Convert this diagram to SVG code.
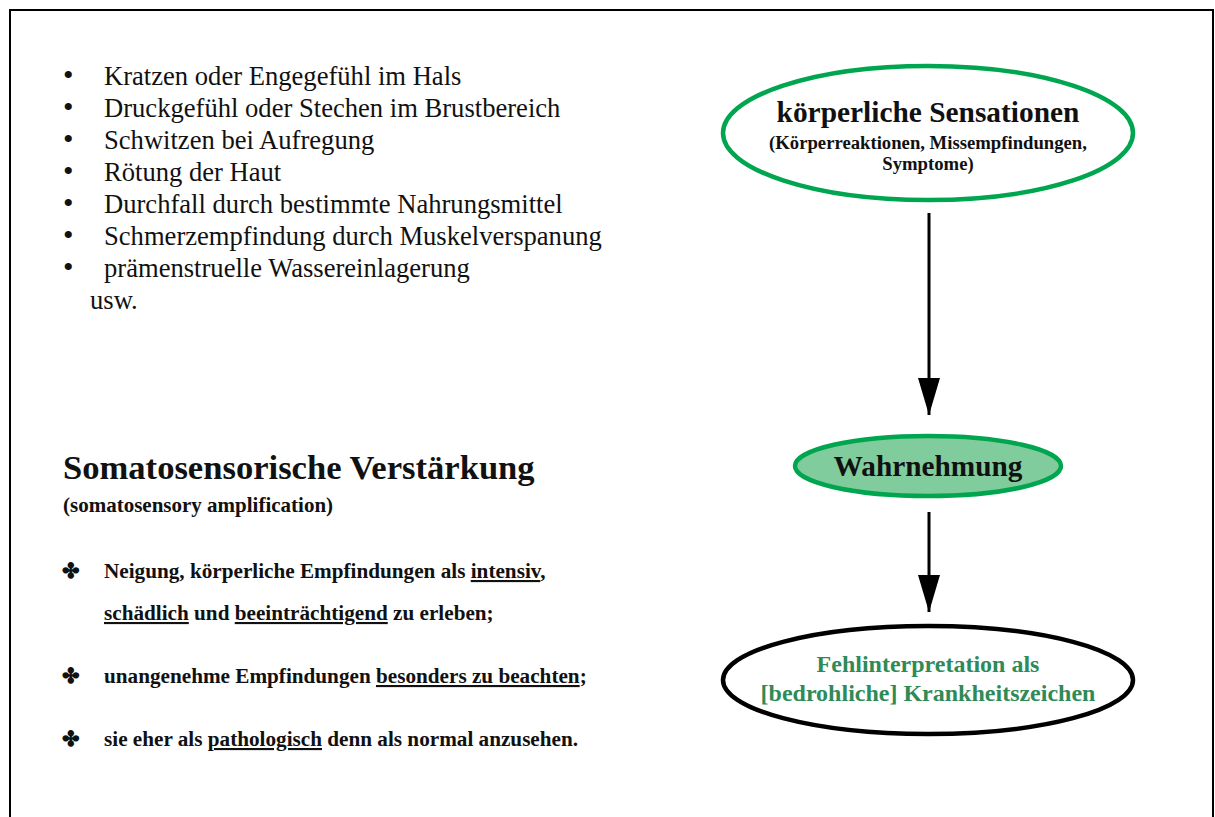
<svg xmlns="http://www.w3.org/2000/svg" width="1215" height="817" viewBox="0 0 1215 817">
<style>
.li{font-family:"Liberation Serif","Times New Roman",serif;font-size:26.6px;fill:#111}
.bu{font-size:30px}
.b{font-family:"Liberation Serif","Times New Roman",serif;font-weight:bold;fill:#111}
.sm{font-size:21.2px}
.u{text-decoration:underline}
.conn{stroke:#000;stroke-width:3;fill:none}
</style>
<defs>
<marker id="ah" markerUnits="userSpaceOnUse" markerWidth="38" markerHeight="24" refX="37" refY="12" orient="auto" viewBox="0 0 38 24">
<path d="M0,1 L37,12 L0,23 Z" fill="#000"/>
</marker>
</defs>
<rect width="1215" height="817" fill="#fff"/>
<path d="M10,817 L10,10 L1213,10 L1213,817" fill="none" stroke="#000" stroke-width="2"/>
<g id="list">
<g class="li">
<text class="bu" x="63" y="85">•</text><text x="104" y="85">Kratzen oder Engegefühl im Hals</text>
<text class="bu" x="63" y="117">•</text><text x="104" y="117">Druckgefühl oder Stechen im Brustbereich</text>
<text class="bu" x="63" y="149">•</text><text x="104" y="149">Schwitzen bei Aufregung</text>
<text class="bu" x="63" y="181">•</text><text x="104" y="181">Rötung der Haut</text>
<text class="bu" x="63" y="213">•</text><text x="104" y="213">Durchfall durch bestimmte Nahrungsmittel</text>
<text class="bu" x="63" y="245">•</text><text x="104" y="245">Schmerzempfindung durch Muskelverspanung</text>
<text class="bu" x="63" y="277">•</text><text x="104" y="277">prämenstruelle Wassereinlagerung</text>
<text x="90" y="309">usw.</text>
</g>
</g>
<g id="somato">
<text class="b" x="63" y="479" font-size="34.6">Somatosensorische Verstärkung</text>
<text class="b" x="63" y="512" font-size="21">(somatosensory amplification)</text>
<g class="b sm">
<text x="62" y="578">✤</text>
<text x="104" y="578">Neigung, körperliche Empfindungen als <tspan class="u">intensiv</tspan>,</text>
<text x="104" y="620"><tspan class="u">schädlich</tspan> und <tspan class="u">beeinträchtigend</tspan> zu erleben;</text>
<text x="62" y="683">✤</text>
<text x="104" y="683">unangenehme Empfindungen <tspan class="u">besonders zu beachten</tspan>;</text>
<text x="62" y="746">✤</text>
<text x="104" y="746">sie eher als <tspan class="u">pathologisch</tspan> denn als normal anzusehen.</text>
</g>
</g>
<g id="connectors">
<line class="conn" x1="929" y1="213" x2="929" y2="415" marker-end="url(#ah)"/>
<line class="conn" x1="929" y1="512" x2="929" y2="612" marker-end="url(#ah)"/>
</g>
<g id="sensationen">
<ellipse cx="928" cy="133" rx="205" ry="67" fill="#fff" stroke="#00a54f" stroke-width="4.5"/>
<text class="b" x="928" y="122" font-size="29.4" text-anchor="middle">körperliche Sensationen</text>
<text class="b" x="928" y="149" font-size="18.7" text-anchor="middle">(Körperreaktionen, Missempfindungen,</text>
<text class="b" x="928" y="170" font-size="18.7" text-anchor="middle">Symptome)</text>
</g>
<g id="wahrnehmung">
<ellipse cx="928" cy="466" rx="133" ry="30" fill="#80cc9c" stroke="#00a54f" stroke-width="4.5"/>
<text class="b" x="928" y="476" font-size="29.3" text-anchor="middle">Wahrnehmung</text>
</g>
<g id="fehl">
<ellipse cx="928" cy="680" rx="205" ry="54" fill="#fff" stroke="#000" stroke-width="4.5"/>
<text class="b" x="928" y="672" font-size="24" text-anchor="middle" style="fill:#2e8b57">Fehlinterpretation als</text>
<text class="b" x="928" y="701" font-size="24" text-anchor="middle" style="fill:#2e8b57">[bedrohliche] Krankheitszeichen</text>
</g>
</svg>
